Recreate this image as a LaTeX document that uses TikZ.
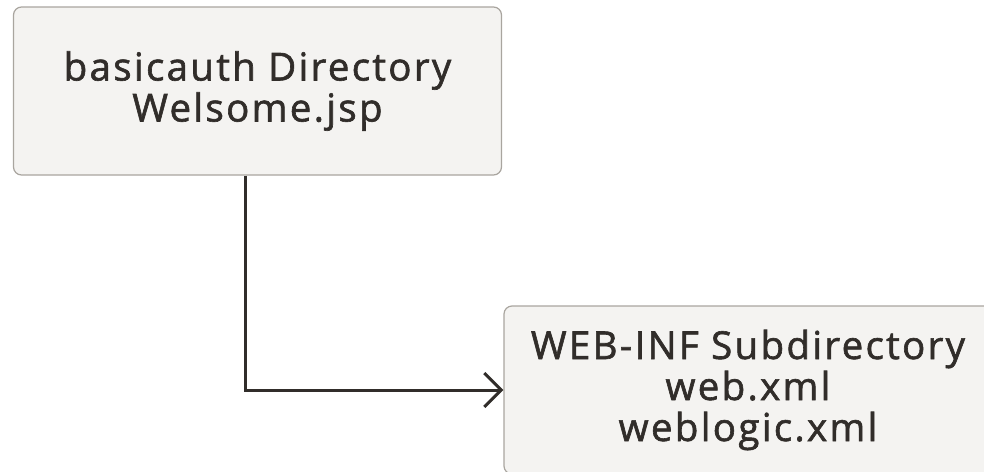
\documentclass[tikz,border=0pt]{standalone}
\usepackage{fontspec}
\setmainfont{Open Sans}
\newfontfamily\boxfont{Open Sans}[BoldFont={Open Sans}, BoldFeatures={FakeBold=1.6}, LetterSpace=6]
\usetikzlibrary{arrows.meta, positioning}

\begin{document}
\begin{tikzpicture}[
        x=1pt, y=1pt, node distance=1cm, on grid,
        >={Straight Barb[length=17pt, width=34pt, line width=3pt]},
        dirbox/.style={draw=boxline, line width=1.2pt, fill=boxfill, rounded corners=8pt,
            minimum width=488pt, minimum height=168pt, align=center,
            font=\boxfont\bfseries\fontsize{38.5}{41}\selectfont, text=textgray},
        link/.style={draw=linkdark, line width=3pt, ->},
        ]
        \definecolor{boxfill}{HTML}{F4F3F1}
        \definecolor{boxline}{HTML}{A9A59F}
        \definecolor{linkdark}{HTML}{312D2A}
        \definecolor{textgray}{HTML}{312D2A}
        \useasboundingbox (0,0) rectangle (984,-471);
        \clip (0,0) rectangle (984,-471);

        \node[dirbox] (basic) at (257.5,-91) {basicauth Directory\\Welsome.jsp};
        \node[dirbox, below right=299pt and 490.5pt of basic] (webinf)
            {WEB-INF Subdirectory\\web.xml\\weblogic.xml};

        \draw[link] ([xshift=-12.5pt]basic.south) |- (webinf.west);
      \end{tikzpicture}
\end{document}
